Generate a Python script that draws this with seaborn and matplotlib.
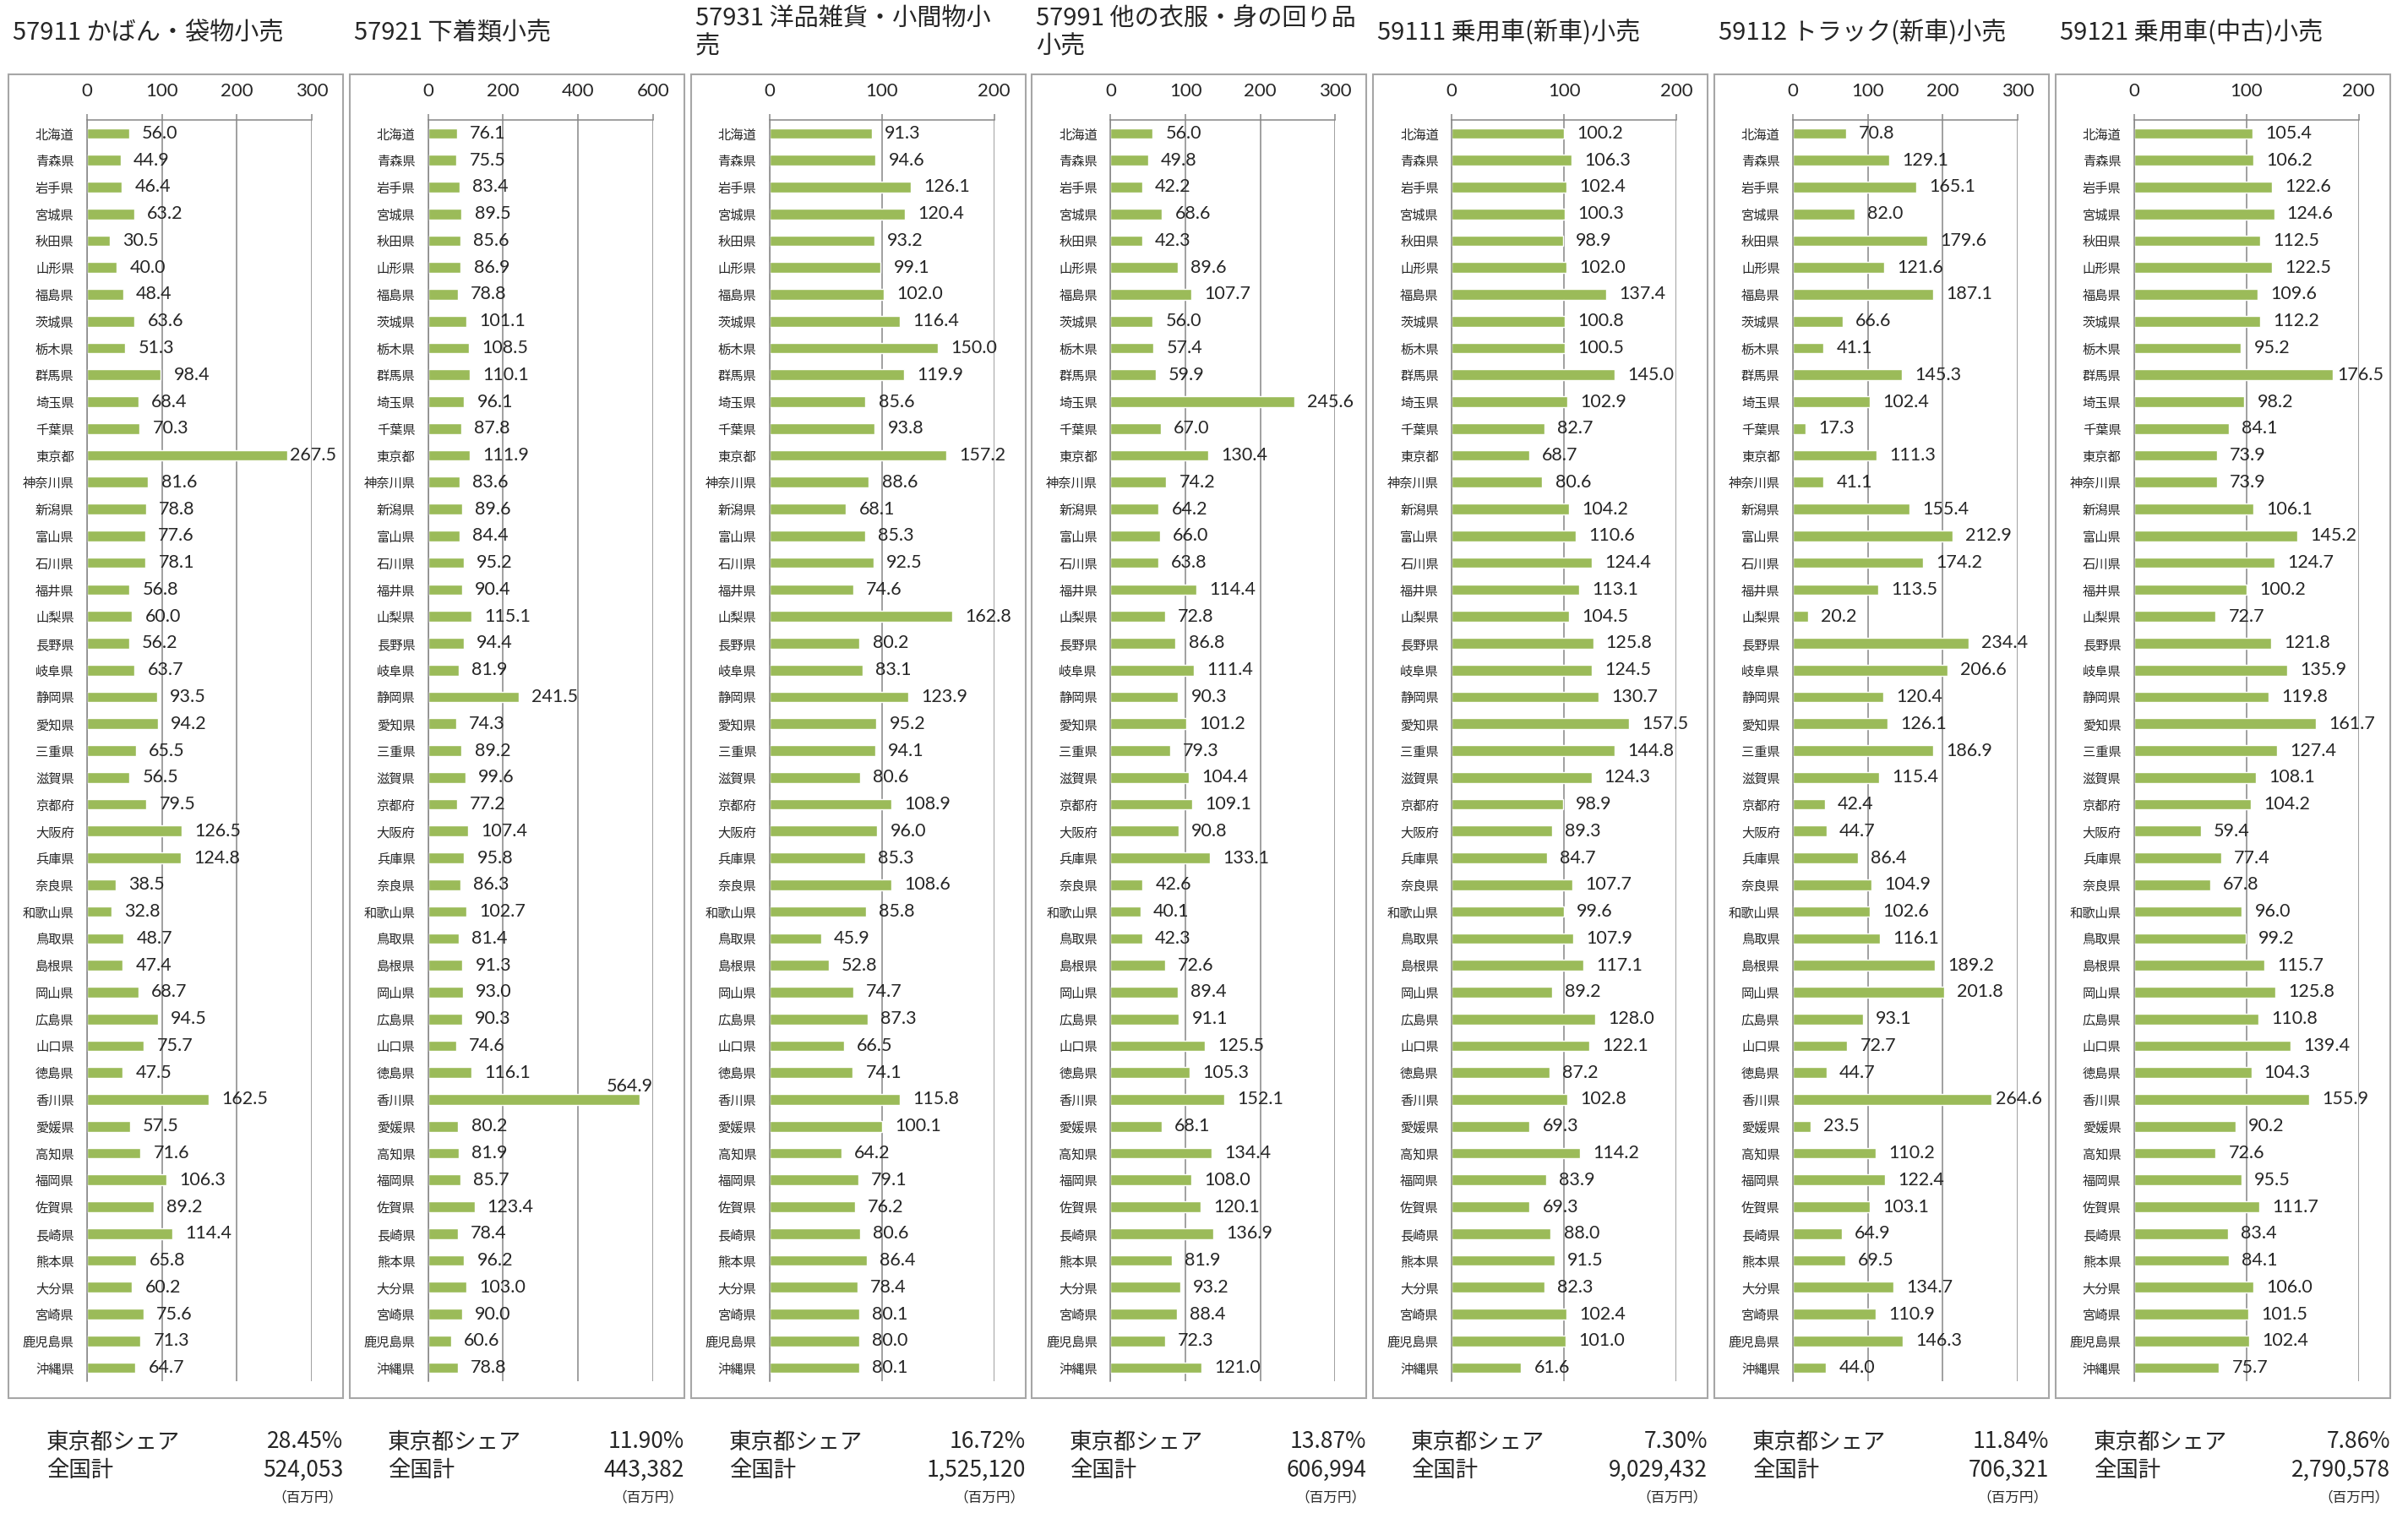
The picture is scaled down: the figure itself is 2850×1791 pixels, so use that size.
import numpy as np
import pandas as pd
import matplotlib
matplotlib.use('Agg')
import matplotlib.pyplot as plt
import seaborn as sns
from matplotlib.patches import Rectangle

# style first, fonts after (set_style resets font.family)
sns.set_style('white')
plt.rcParams['font.family'] = ['Noto Sans CJK JP', 'DejaVu Sans']

prefectures = [
    '北海道', '青森県', '岩手県', '宮城県', '秋田県', '山形県', '福島県', '茨城県',
    '栃木県', '群馬県', '埼玉県', '千葉県', '東京都', '神奈川県', '新潟県', '富山県',
    '石川県', '福井県', '山梨県', '長野県', '岐阜県', '静岡県', '愛知県', '三重県',
    '滋賀県', '京都府', '大阪府', '兵庫県', '奈良県', '和歌山県', '鳥取県', '島根県',
    '岡山県', '広島県', '山口県', '徳島県', '香川県', '愛媛県', '高知県', '福岡県',
    '佐賀県', '長崎県', '熊本県', '大分県', '宮崎県', '鹿児島県', '沖縄県',
]

titles = [
    '57911 かばん・袋物小売',
    '57921 下着類小売',
    '57931 洋品雑貨・小間物小\n売',
    '57991 他の衣服・身の回り品\n小売',
    '59111 乗用車(新車)小売',
    '59112 トラック(新車)小売',
    '59121 乗用車(中古)小売',
]
x_max = [300, 600, 200, 300, 200, 300, 200]
x_step = [100, 200, 100, 100, 100, 100, 100]
tokyo_share = ['28.45%', '11.90%', '16.72%', '13.87%', '7.30%', '11.84%', '7.86%']
national_total = ['524,053', '443,382', '1,525,120', '606,994', '9,029,432', '706,321', '2,790,578']

bags = [56.0, 44.9, 46.4, 63.2, 30.5, 40.0, 48.4, 63.6, 51.3, 98.4, 68.4, 70.3, 267.5,
        81.6, 78.8, 77.6, 78.1, 56.8, 60.0, 56.2, 63.7, 93.5, 94.2, 65.5, 56.5, 79.5,
        126.5, 124.8, 38.5, 32.8, 48.7, 47.4, 68.7, 94.5, 75.7, 47.5, 162.5, 57.5, 71.6,
        106.3, 89.2, 114.4, 65.8, 60.2, 75.6, 71.3, 64.7]
underwear = [76.1, 75.5, 83.4, 89.5, 85.6, 86.9, 78.8, 101.1, 108.5, 110.1, 96.1, 87.8,
             111.9, 83.6, 89.6, 84.4, 95.2, 90.4, 115.1, 94.4, 81.9, 241.5, 74.3, 89.2,
             99.6, 77.2, 107.4, 95.8, 86.3, 102.7, 81.4, 91.3, 93.0, 90.3, 74.6, 116.1,
             564.9, 80.2, 81.9, 85.7, 123.4, 78.4, 96.2, 103.0, 90.0, 60.6, 78.8]
accessories = [91.3, 94.6, 126.1, 120.4, 93.2, 99.1, 102.0, 116.4, 150.0, 119.9, 85.6,
               93.8, 157.2, 88.6, 68.1, 85.3, 92.5, 74.6, 162.8, 80.2, 83.1, 123.9, 95.2,
               94.1, 80.6, 108.9, 96.0, 85.3, 108.6, 85.8, 45.9, 52.8, 74.7, 87.3, 66.5,
               74.1, 115.8, 100.1, 64.2, 79.1, 76.2, 80.6, 86.4, 78.4, 80.1, 80.0, 80.1]
other_apparel = [56.0, 49.8, 42.2, 68.6, 42.3, 89.6, 107.7, 56.0, 57.4, 59.9, 245.6, 67.0,
                 130.4, 74.2, 64.2, 66.0, 63.8, 114.4, 72.8, 86.8, 111.4, 90.3, 101.2,
                 79.3, 104.4, 109.1, 90.8, 133.1, 42.6, 40.1, 42.3, 72.6, 89.4, 91.1,
                 125.5, 105.3, 152.1, 68.1, 134.4, 108.0, 120.1, 136.9, 81.9, 93.2, 88.4,
                 72.3, 121.0]
new_cars = [100.2, 106.3, 102.4, 100.3, 98.9, 102.0, 137.4, 100.8, 100.5, 145.0, 102.9,
            82.7, 68.7, 80.6, 104.2, 110.6, 124.4, 113.1, 104.5, 125.8, 124.5, 130.7,
            157.5, 144.8, 124.3, 98.9, 89.3, 84.7, 107.7, 99.6, 107.9, 117.1, 89.2, 128.0,
            122.1, 87.2, 102.8, 69.3, 114.2, 83.9, 69.3, 88.0, 91.5, 82.3, 102.4, 101.0, 61.6]
new_trucks = [70.8, 129.1, 165.1, 82.0, 179.6, 121.6, 187.1, 66.6, 41.1, 145.3, 102.4,
              17.3, 111.3, 41.1, 155.4, 212.9, 174.2, 113.5, 20.2, 234.4, 206.6, 120.4,
              126.1, 186.9, 115.4, 42.4, 44.7, 86.4, 104.9, 102.6, 116.1, 189.2, 201.8,
              93.1, 72.7, 44.7, 264.6, 23.5, 110.2, 122.4, 103.1, 64.9, 69.5, 134.7, 110.9,
              146.3, 44.0]
used_cars = [105.4, 106.2, 122.6, 124.6, 112.5, 122.5, 109.6, 112.2, 95.2, 176.5, 98.2,
             84.1, 73.9, 73.9, 106.1, 145.2, 124.7, 100.2, 72.7, 121.8, 135.9, 119.8,
             161.7, 127.4, 108.1, 104.2, 59.4, 77.4, 67.8, 96.0, 99.2, 115.7, 125.8, 110.8,
             139.4, 104.3, 155.9, 90.2, 72.6, 95.5, 111.7, 83.4, 84.1, 106.0, 101.5, 102.4,
             75.7]

series = [bags, underwear, accessories, other_apparel, new_cars, new_trucks, used_cars]

W, H = 2850, 1791
BAR = '#9BBB59'
GRID = '#868686'
FRAME = '#A6A6A6'
NUM_FONT = ['Lato', 'DejaVu Sans']


def fx(px):
    return px / W


def fy(py):
    return 1 - py / H


fig = plt.figure(figsize=(W / 100, H / 100), dpi=100)
labels_to_fit = []  # (annotation, right limit in px)

for i, vals in enumerate(series):
    left = 10 + 403.8 * i
    box_right = left + 396

    # panel frame
    fig.add_artist(Rectangle((fx(left), fy(1655)), 396 / W, (1655 - 88) / H,
                             transform=fig.transFigure, fill=False,
                             edgecolor=FRAME, lw=1.5))

    ax = fig.add_axes([fx(left + 93), fy(1635), 266 / W, (1635 - 142) / H])
    df = pd.DataFrame({'pref': prefectures, 'value': vals})
    sns.barplot(data=df, x='value', y='pref', ax=ax, color=BAR,
                saturation=1, width=0.4, orient='h')

    xmax = x_max[i]
    ax.set_xlim(0, xmax)
    ax.set_xticks(np.arange(0, xmax + 1, x_step[i]))
    ax.xaxis.tick_top()
    ax.tick_params(axis='x', direction='out', length=5, width=1.1, color=GRID,
                   pad=12, labelsize=16)
    for lab in ax.get_xticklabels():
        lab.set_fontfamily(NUM_FONT)
    ax.tick_params(axis='y', length=0, pad=11, labelsize=11)
    ax.set_xlabel('')
    ax.set_ylabel('')
    ax.grid(axis='x', color=GRID, lw=1.1)
    ax.set_axisbelow(True)
    for side in ['right', 'bottom']:
        ax.spines[side].set_visible(False)
    for side in ['top', 'left']:
        ax.spines[side].set_color(GRID)
        ax.spines[side].set_linewidth(1.1)

    # value labels
    for j, v in enumerate(vals):
        if v > 0.92 * xmax:
            # no room on the right: put it above the bar, flush with the axis end
            ax.annotate(f'{v:.1f}', (xmax, j - 0.5), ha='right', va='center',
                        fontsize=15.5, family=NUM_FONT, annotation_clip=False)
        else:
            ann = ax.annotate(f'{v:.1f}', (v, j), xytext=(11, 0),
                              textcoords='offset points', ha='left', va='center',
                              fontsize=15.5, family=NUM_FONT, annotation_clip=False)
            labels_to_fit.append((ann, box_right - 8))

    # title
    fig.text(fx(left + 5), fy(39), titles[i], ha='left', va='center',
             fontsize=21, linespacing=1.1)

    # footer
    fig.text(fx(left + 45), fy(1707), '東京都シェア', ha='left', va='center', fontsize=19)
    fig.text(fx(left + 45), fy(1740), '全国計', ha='left', va='center', fontsize=19)
    fig.text(fx(left + 396), fy(1707), tokyo_share[i], ha='right', va='center', fontsize=19)
    fig.text(fx(left + 396), fy(1740), national_total[i], ha='right', va='center', fontsize=19)
    fig.text(fx(left + 395), fy(1773), '（百万円）', ha='right', va='center', fontsize=12)

# keep labels inside the panel frame (pull back the ones that would cross it)
fig.canvas.draw()
renderer = fig.canvas.get_renderer()
for ann, limit in labels_to_fit:
    bb = ann.get_window_extent(renderer)
    overflow = bb.x1 - limit
    if overflow > 0:
        dx = max(overflow * 72 / 100, 0)
        ann.xyann = (11 - dx, 0)

fig.savefig('out.png', dpi=100, facecolor='white')
